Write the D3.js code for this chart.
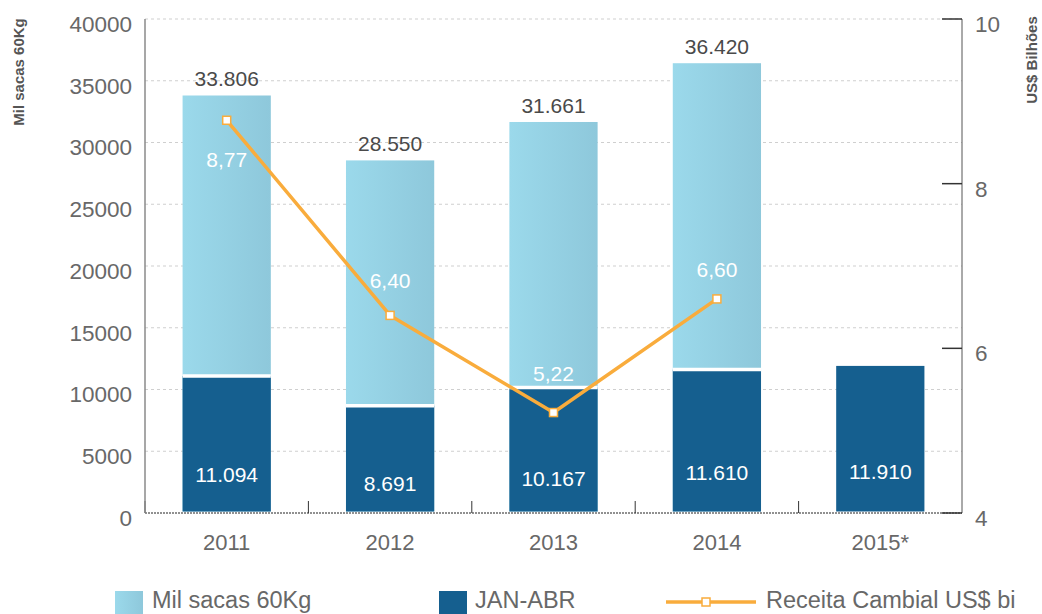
<!DOCTYPE html>
<html>
<head>
<meta charset="utf-8">
<script src="https://cdn.jsdelivr.net/npm/d3@7"></script>
<style>
  body { margin: 0; background: #fff; }
  text { font-family: "Liberation Sans", Arial, Helvetica, sans-serif; }
</style>
</head>
<body>
<svg id="chart"></svg>
<script>
// chart data
const years = ["2011", "2012", "2013", "2014", "2015*"];
const totalSacks = [33806, 28550, 31661, 36420, null];      // Mil sacas 60Kg
const janAbr = [11094, 8691, 10167, 11610, 11910];          // JAN-ABR
const revenue = [8.77, 6.40, 5.22, 6.60, null];             // Receita Cambial US$ bi
const leftTicks = [0, 5000, 10000, 15000, 20000, 25000, 30000, 35000, 40000];
const rightTicks = [4, 6, 8, 10];
const legendLabels = ["Mil sacas 60Kg", "JAN-ABR", "Receita Cambial US$ bi"];

const width = 1042, height = 614;
const margin = { top: 19, right: 80, bottom: 101, left: 145 };
const innerBottom = height - margin.bottom;
const innerRight = width - margin.right;

const lightA = "#9bd9eb", lightB = "#8ec8db", dark = "#155f8f", orange = "#f9ac3c";
const grey = "#686868";

const fmtThousands = v => d3.format(",")(v).replace(/,/g, ".");
const fmtDec = v => v.toFixed(2).replace(".", ",");

const svg = d3.select("#chart").attr("width", width).attr("height", height);

const defs = svg.append("defs");
const grad = defs.append("linearGradient").attr("id", "lightGrad")
  .attr("x1", "0%").attr("x2", "100%").attr("y1", "0%").attr("y2", "0%");
grad.append("stop").attr("offset", "0%").attr("stop-color", lightA);
grad.append("stop").attr("offset", "100%").attr("stop-color", lightB);

// scales
const x = d3.scaleBand()
  .domain(years)
  .range([margin.left, innerRight])
  .paddingInner(0.46)
  .paddingOuter(0.23);

const y = d3.scaleLinear().domain([0, 40000]).range([innerBottom, margin.top]);
const y2 = d3.scaleLinear().domain([4, 10]).range([innerBottom, margin.top]);

// gridlines
svg.append("g")
  .selectAll("line")
  .data(leftTicks.filter(d => d > 0))
  .enter().append("line")
  .attr("x1", margin.left).attr("x2", innerRight)
  .attr("y1", d => y(d)).attr("y2", d => y(d))
  .attr("stroke", "#cfcfcf").attr("stroke-dasharray", "3,3");

// baseline (dashed) and category boundary ticks
svg.append("line")
  .attr("x1", margin.left).attr("x2", innerRight)
  .attr("y1", innerBottom).attr("y2", innerBottom)
  .attr("stroke", "#222").attr("stroke-dasharray", "2,1");

const step = x.step();
svg.append("g")
  .selectAll("line")
  .data(d3.range(years.length))
  .enter().append("line")
  .attr("x1", i => margin.left + i * step)
  .attr("x2", i => margin.left + i * step)
  .attr("y1", innerBottom - 12).attr("y2", innerBottom)
  .attr("stroke", "#333");

// left axis
svg.append("line")
  .attr("x1", margin.left).attr("x2", margin.left)
  .attr("y1", margin.top).attr("y2", innerBottom)
  .attr("stroke", "#8a8a8a").attr("stroke-width", 1.5);

svg.append("g")
  .selectAll("text")
  .data(leftTicks)
  .enter().append("text")
  .attr("x", margin.left - 13)
  .attr("y", d => y(d) + 7)
  .attr("text-anchor", "end")
  .attr("dominant-baseline", "middle")
  .attr("font-size", 22.5)
  .attr("fill", grey)
  .text(d => d);

// right axis
svg.append("line")
  .attr("x1", innerRight).attr("x2", innerRight)
  .attr("y1", margin.top).attr("y2", innerBottom)
  .attr("stroke", "#555");

svg.append("g")
  .selectAll("line")
  .data(rightTicks)
  .enter().append("line")
  .attr("x1", innerRight - 20).attr("x2", innerRight)
  .attr("y1", d => y2(d)).attr("y2", d => y2(d))
  .attr("stroke", "#333").attr("stroke-width", 1.5);

svg.append("g")
  .selectAll("text")
  .data(rightTicks)
  .enter().append("text")
  .attr("x", innerRight + 13)
  .attr("y", d => y2(d) + 7)
  .attr("dominant-baseline", "middle")
  .attr("font-size", 22.5)
  .attr("fill", grey)
  .text(d => d);

// axis titles
svg.append("text")
  .attr("transform", `translate(24, 72) rotate(-90)`)
  .attr("text-anchor", "middle")
  .attr("font-size", 15).attr("font-weight", "bold")
  .attr("fill", "#555")
  .text("Mil sacas 60Kg");

svg.append("text")
  .attr("transform", `translate(1037, 60) rotate(-90)`)
  .attr("text-anchor", "middle")
  .attr("font-size", 15).attr("font-weight", "bold")
  .attr("fill", "#555")
  .text("US$ Bilhões");

// x labels
svg.append("g")
  .selectAll("text")
  .data(years)
  .enter().append("text")
  .attr("x", d => x(d) + x.bandwidth() / 2)
  .attr("y", 550)
  .attr("text-anchor", "middle")
  .attr("font-size", 22)
  .attr("fill", grey)
  .text(d => d);

// light bars (total)
const rows = years.map((yr, i) => ({ yr, total: totalSacks[i], part: janAbr[i], rev: revenue[i] }));

svg.append("g")
  .selectAll("rect")
  .data(rows.filter(d => d.total != null))
  .enter().append("rect")
  .attr("x", d => x(d.yr))
  .attr("y", d => y(d.total))
  .attr("width", x.bandwidth())
  .attr("height", d => y(0) - y(d.total) - 1.5)
  .attr("fill", "url(#lightGrad)");

// dark bars (JAN-ABR)
svg.append("g")
  .selectAll("rect")
  .data(rows)
  .enter().append("rect")
  .attr("x", d => x(d.yr))
  .attr("y", d => y(d.part))
  .attr("width", x.bandwidth())
  .attr("height", d => y(0) - y(d.part) - 1.5)
  .attr("fill", dark);

svg.append("g")
  .selectAll("line")
  .data(rows.filter(d => d.total != null))
  .enter().append("line")
  .attr("x1", d => x(d.yr)).attr("x2", d => x(d.yr) + x.bandwidth())
  .attr("y1", d => y(d.part)).attr("y2", d => y(d.part))
  .attr("stroke", "#fff").attr("stroke-width", 3.5);

// total labels
svg.append("g")
  .selectAll("text")
  .data(rows.filter(d => d.total != null))
  .enter().append("text")
  .attr("x", d => x(d.yr) + x.bandwidth() / 2)
  .attr("y", d => y(d.total) - 9)
  .attr("text-anchor", "middle")
  .attr("font-size", 21)
  .attr("fill", "#4a4a4a")
  .text(d => fmtThousands(d.total));

// JAN-ABR labels
svg.append("g")
  .selectAll("text")
  .data(rows)
  .enter().append("text")
  .attr("x", d => x(d.yr) + x.bandwidth() / 2)
  .attr("y", d => y(d.part * 0.3) + 3)
  .attr("dy", "0.35em")
  .attr("text-anchor", "middle")
  .attr("font-size", 21)
  .attr("fill", "#fff")
  .text(d => fmtThousands(d.part));

// revenue line
const revRows = rows.filter(d => d.rev != null);
const line = d3.line()
  .x(d => x(d.yr) + x.bandwidth() / 2)
  .y(d => y2(d.rev));

svg.append("path")
  .datum(revRows)
  .attr("d", line)
  .attr("fill", "none")
  .attr("stroke", orange)
  .attr("stroke-width", 3.5)
  .attr("stroke-linejoin", "round");

svg.append("g")
  .selectAll("rect")
  .data(revRows)
  .enter().append("rect")
  .attr("x", d => x(d.yr) + x.bandwidth() / 2 - 4)
  .attr("y", d => y2(d.rev) - 4)
  .attr("width", 8).attr("height", 8)
  .attr("fill", "#fff")
  .attr("stroke", orange).attr("stroke-width", 1.5);

// revenue labels: first one sits below its point, the others above
const revLabelShift = [39, -35, -39, -29];
svg.append("g")
  .selectAll("text")
  .data(revRows)
  .enter().append("text")
  .attr("x", d => x(d.yr) + x.bandwidth() / 2)
  .attr("y", (d, i) => y2(d.rev) + revLabelShift[i])
  .attr("dy", "0.35em")
  .attr("text-anchor", "middle")
  .attr("font-size", 21)
  .attr("fill", "#fff")
  .text(d => fmtDec(d.rev));

// legend
const legend = svg.append("g").attr("transform", "translate(0, 600)");

legend.append("rect").attr("x", 115).attr("y", -9).attr("width", 28).attr("height", 23)
  .attr("fill", "url(#lightGrad)");
legend.append("text").attr("x", 152).attr("y", 8).attr("font-size", 23.5).attr("fill", grey)
  .text(legendLabels[0]);

legend.append("rect").attr("x", 439).attr("y", -9).attr("width", 28).attr("height", 23)
  .attr("fill", dark);
legend.append("text").attr("x", 475).attr("y", 8).attr("font-size", 23.5).attr("fill", grey)
  .text(legendLabels[1]);

legend.append("line").attr("x1", 666).attr("x2", 756).attr("y1", 2).attr("y2", 2)
  .attr("stroke", orange).attr("stroke-width", 3.5);
legend.append("rect").attr("x", 702).attr("y", -2).attr("width", 8).attr("height", 8)
  .attr("fill", "#fff").attr("stroke", orange).attr("stroke-width", 1.5);
legend.append("text").attr("x", 766).attr("y", 8).attr("font-size", 23.5).attr("fill", grey)
  .text(legendLabels[2]);
</script>
</body>
</html>
